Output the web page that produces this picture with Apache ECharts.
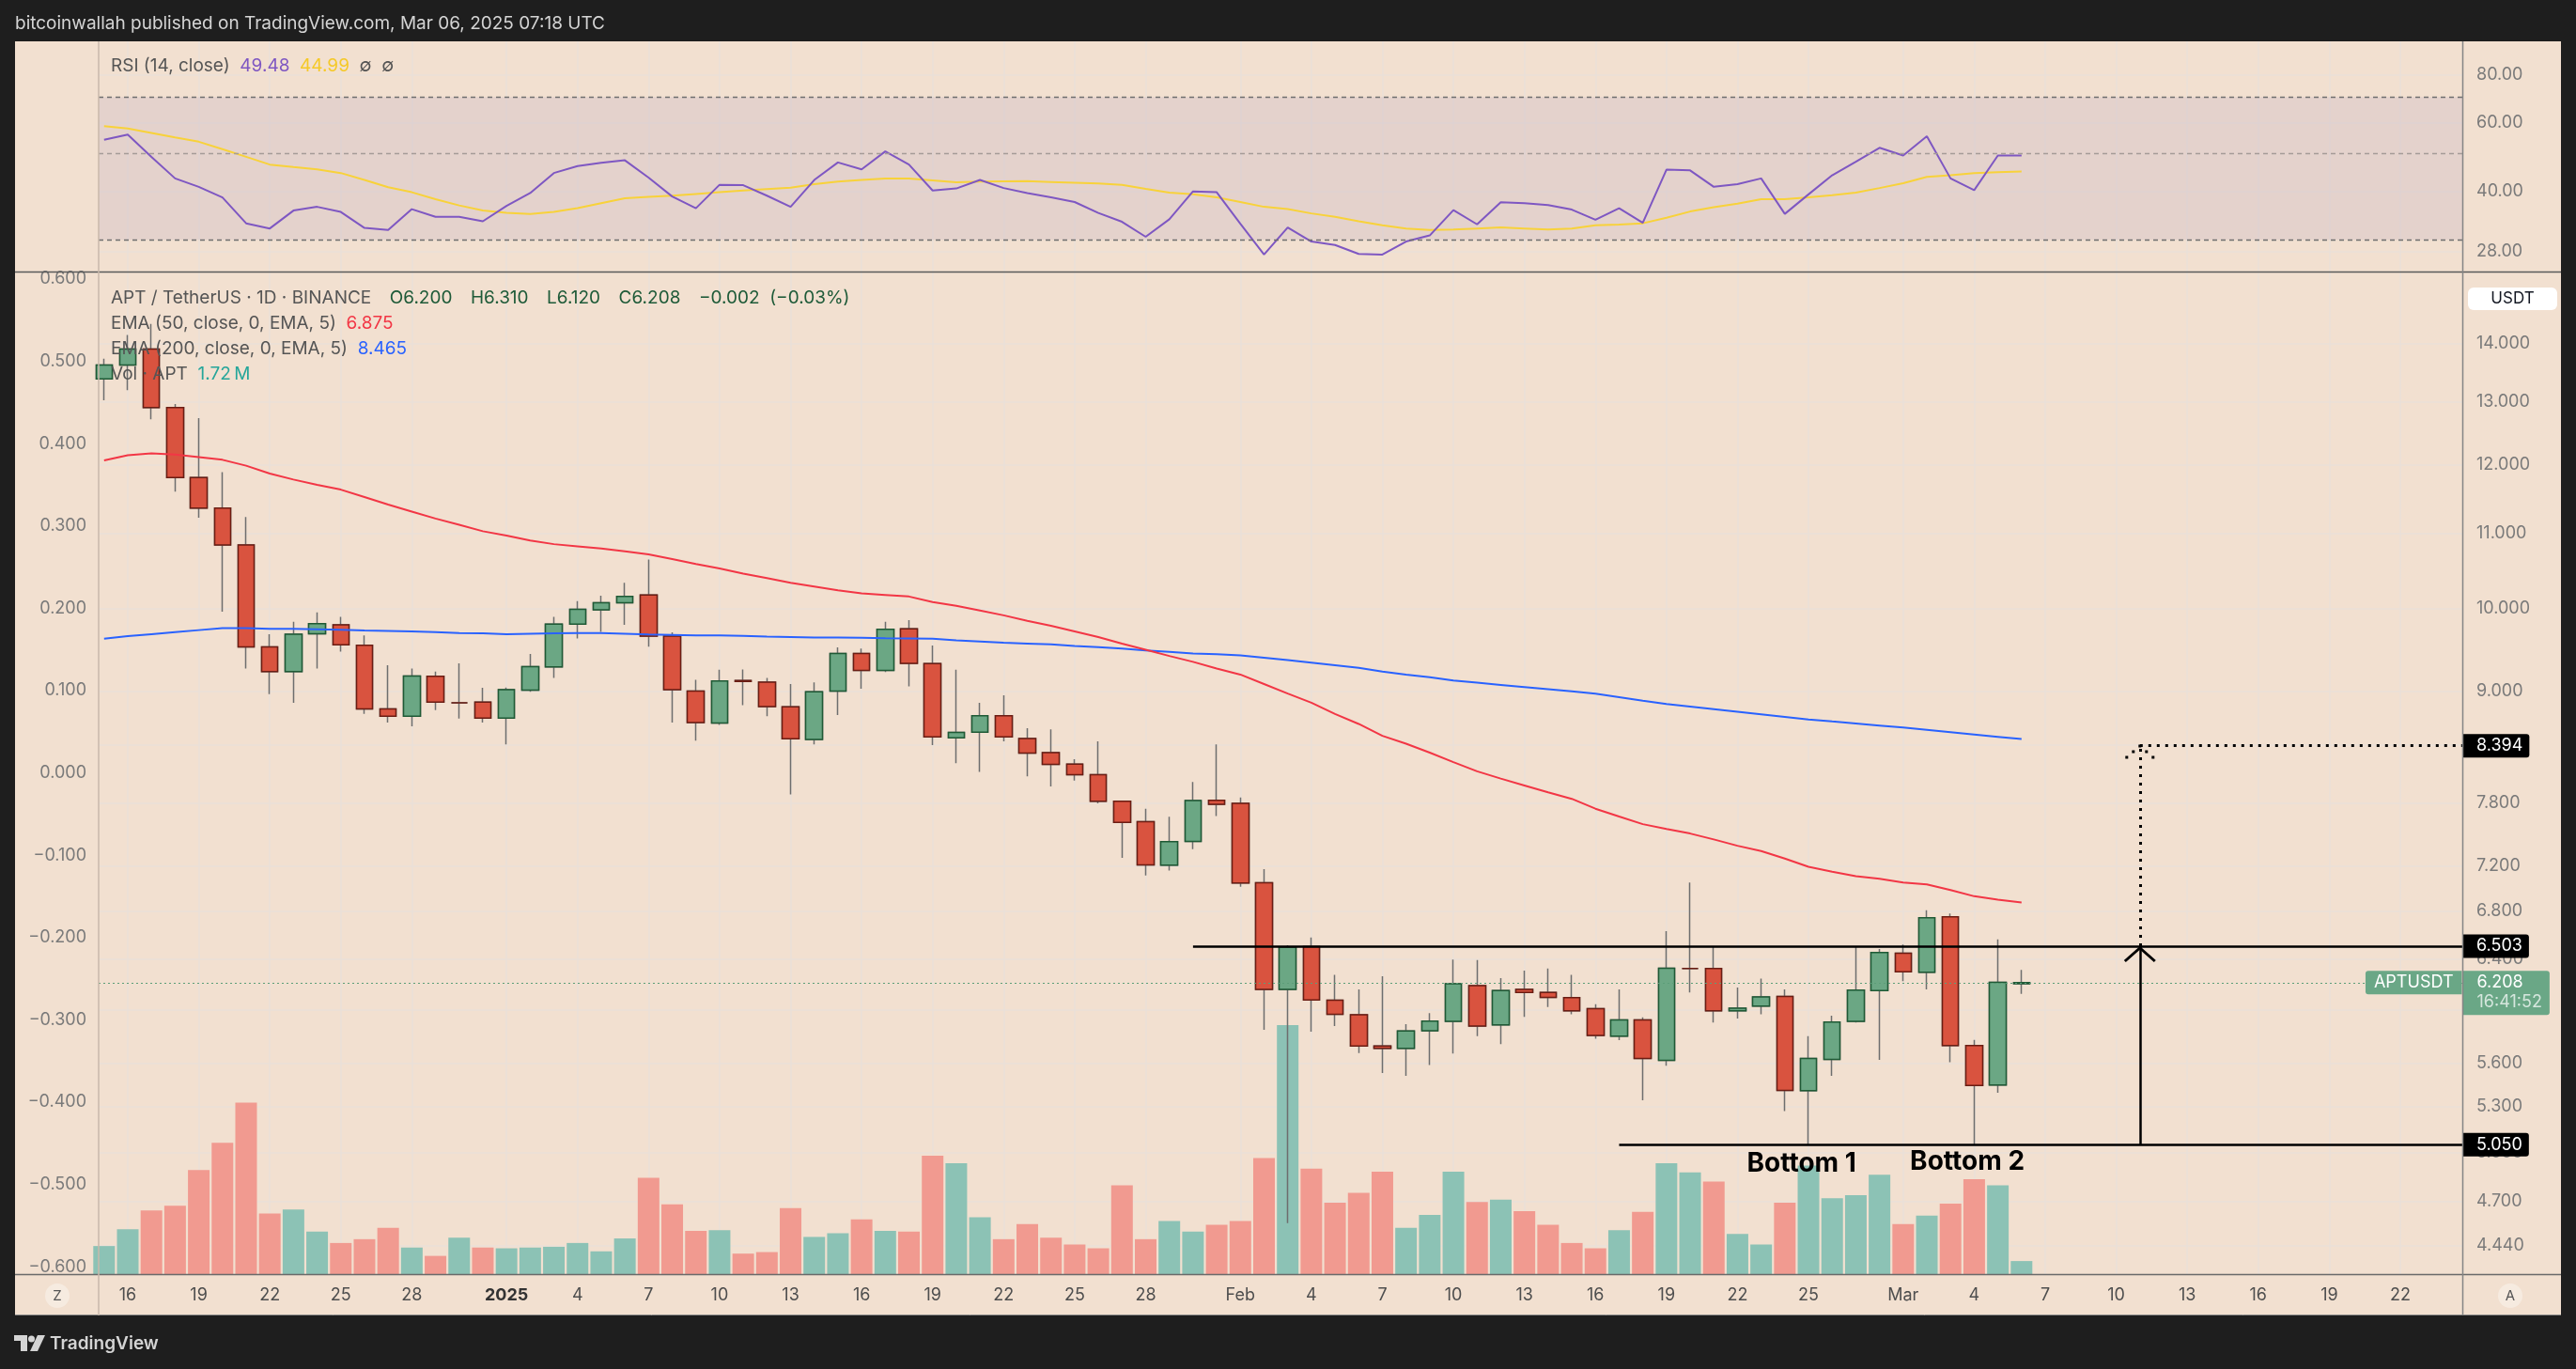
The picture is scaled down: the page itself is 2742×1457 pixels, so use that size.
<!DOCTYPE html>
<html lang="en">
<head>
<meta charset="utf-8">
<title>APT / TetherUS · 1D · BINANCE</title>
<script src="https://cdn.jsdelivr.net/npm/echarts@6.0.0/dist/echarts.min.js"></script>
<style>
  html, body { margin: 0; padding: 0; background: #1e1e1e; }
  #chart { width: 2742px; height: 1457px; }
</style>
</head>
<body>
<div id="chart"></div>
<script>
// daily candles, Dec 15 2024 .. Mar 6 2025
const firstDate = '2024-12-15';

const opens = [13.39, 13.63, 13.91, 12.91, 11.81, 11.36, 10.84, 9.52, 9.225, 9.68,
  9.79, 9.54, 8.797, 8.714, 9.17, 8.866, 8.873, 8.694, 9.01, 9.28,
  9.80, 9.98, 10.07, 10.17, 9.65, 9.0, 8.64, 9.12, 9.101, 8.82,
  8.46, 9.0, 9.44, 9.24, 9.74, 9.32, 8.48, 8.54, 8.72, 8.47,
  8.32, 8.20, 8.09, 7.82, 7.62, 7.21, 7.43, 7.83, 7.80, 7.05,
  6.155, 6.50, 6.07, 5.96, 5.727, 5.71, 5.84, 5.91, 6.185, 5.883,
  6.155, 6.13, 6.09, 6.005, 5.80, 5.92, 5.623, 6.32, 6.32, 5.99,
  6.025, 6.10, 5.41, 5.63, 5.91, 6.145, 6.445, 6.29, 6.75, 5.73,
  5.45, 6.20];
const highs = [13.74, 14.16, 14.36, 12.97, 12.74, 11.89, 11.23, 9.675, 9.83, 9.947,
  9.89, 9.659, 9.299, 9.262, 9.225, 9.322, 9.037, 9.04, 9.433, 9.89,
  10.09, 10.16, 10.33, 10.64, 9.698, 9.13, 9.248, 9.25, 9.15, 9.08,
  9.10, 9.514, 9.50, 9.83, 9.85, 9.537, 9.248, 8.866, 8.951, 8.583,
  8.57, 8.25, 8.44, 7.82, 7.747, 7.667, 8.015, 8.409, 7.859, 7.173,
  6.51, 6.575, 6.27, 6.155, 6.259, 5.888, 5.972, 6.393, 6.39, 6.244,
  6.303, 6.32, 6.27, 6.04, 6.155, 5.94, 6.628, 7.053, 6.50, 6.17,
  6.24, 6.155, 5.80, 5.952, 6.50, 6.48, 6.516, 6.807, 6.78, 5.772,
  6.559, 6.31];
const lows = [13.03, 13.20, 12.72, 11.60, 11.22, 9.955, 9.262, 8.965, 8.866, 9.262,
  9.462, 8.742, 8.645, 8.604, 8.784, 8.688, 8.645, 8.409, 8.99, 9.151,
  9.621, 9.704, 9.79, 9.522, 8.645, 8.449, 8.62, 8.838, 8.714, 7.889,
  8.409, 8.728, 9.025, 9.22, 9.052, 8.40, 8.21, 8.12, 8.442, 8.074,
  7.97, 8.03, 7.80, 7.276, 7.116, 7.16, 7.357, 7.674, 7.014, 5.847,
  4.571, 5.833, 5.875, 5.676, 5.533, 5.513, 5.589, 5.672, 5.80, 5.741,
  5.943, 6.019, 5.963, 5.78, 5.77, 5.344, 5.585, 6.13, 5.901, 5.93,
  5.963, 5.272, 5.048, 5.513, 5.90, 5.627, 6.22, 6.155, 5.61, 5.048,
  5.396, 6.12];
const closes = [13.63, 13.91, 12.91, 11.81, 11.36, 10.84, 9.52, 9.225, 9.675, 9.806,
  9.545, 8.797, 8.714, 9.173, 8.873, 8.866, 8.694, 9.015, 9.284, 9.798,
  9.986, 10.07, 10.15, 9.652, 9.015, 8.645, 9.115, 9.11, 8.823, 8.469,
  8.99, 9.439, 9.24, 9.736, 9.321, 8.489, 8.537, 8.721, 8.49, 8.316,
  8.198, 8.09, 7.82, 7.613, 7.213, 7.428, 7.828, 7.791, 7.047, 6.155,
  6.496, 6.072, 5.963, 5.727, 5.71, 5.838, 5.911, 6.20, 5.875, 6.145,
  6.13, 6.092, 5.99, 5.804, 5.92, 5.636, 6.323, 6.32, 5.99, 6.01,
  6.096, 5.412, 5.636, 5.905, 6.15, 6.451, 6.294, 6.743, 5.731, 5.446,
  6.210, 6.208];
// volume, millions of APT
const volumes = [3.7, 5.9, 8.4, 9.0, 13.7, 17.3, 22.6, 8.0, 8.5, 5.6,
  4.1, 4.6, 6.1, 3.5, 2.4, 4.8, 3.5, 3.4, 3.5, 3.6,
  4.1, 3.0, 4.7, 12.7, 9.2, 5.7, 5.8, 2.7, 2.9, 8.7,
  4.9, 5.4, 7.2, 5.7, 5.6, 15.6, 14.6, 7.5, 4.6, 6.6,
  4.8, 3.9, 3.4, 11.7, 4.6, 7.0, 5.6, 6.5, 7.0, 15.3,
  32.8, 13.9, 9.4, 10.7, 13.5, 6.1, 7.8, 13.5, 9.5, 9.8,
  8.3, 6.5, 4.1, 3.4, 5.8, 8.2, 14.6, 13.4, 12.2, 5.3,
  3.9, 9.4, 14.3, 10.0, 10.4, 13.1, 6.6, 7.7, 9.3, 12.5,
  11.7, 1.72];
const ema50 = [12.07, 12.15, 12.18, 12.16, 12.12, 12.08, 11.99, 11.87, 11.78, 11.70,
  11.63, 11.52, 11.41, 11.31, 11.21, 11.12, 11.03, 10.97, 10.90, 10.85,
  10.82, 10.79, 10.75, 10.71, 10.645, 10.58, 10.52, 10.45, 10.39, 10.33,
  10.28, 10.23, 10.19, 10.17, 10.15, 10.08, 10.03, 9.97, 9.91, 9.84,
  9.78, 9.71, 9.64, 9.56, 9.485, 9.41, 9.34, 9.26, 9.19, 9.08,
  8.97, 8.866, 8.74, 8.63, 8.50, 8.415, 8.32, 8.22, 8.125, 8.05,
  7.98, 7.91, 7.845, 7.747, 7.67, 7.596, 7.55, 7.506, 7.45, 7.39,
  7.34, 7.27, 7.195, 7.15, 7.11, 7.085, 7.053, 7.036, 6.985, 6.93,
  6.90, 6.875];
const ema200 = [9.62, 9.65, 9.675, 9.70, 9.725, 9.75, 9.75, 9.74, 9.74, 9.735,
  9.73, 9.72, 9.715, 9.71, 9.70, 9.69, 9.685, 9.675, 9.68, 9.685,
  9.69, 9.69, 9.68, 9.67, 9.665, 9.66, 9.66, 9.655, 9.645, 9.64,
  9.635, 9.633, 9.63, 9.625, 9.623, 9.62, 9.60, 9.585, 9.57, 9.56,
  9.55, 9.53, 9.515, 9.50, 9.477, 9.46, 9.44, 9.43, 9.417, 9.39,
  9.36, 9.33, 9.30, 9.27, 9.225, 9.19, 9.16, 9.12, 9.095, 9.07,
  9.045, 9.02, 8.995, 8.97, 8.93, 8.89, 8.853, 8.824, 8.795, 8.766,
  8.737, 8.708, 8.68, 8.657, 8.635, 8.612, 8.59, 8.565, 8.54, 8.515,
  8.49, 8.465];
const rsi = [54.35, 56.0, 49.1, 43.2, 41.1, 38.6, 33.1, 32.1, 35.7, 36.5,
  35.4, 32.2, 31.8, 36.0, 34.4, 34.4, 33.5, 36.7, 39.6, 44.6,
  46.5, 47.4, 48.1, 43.4, 38.8, 36.2, 41.6, 41.5, 39.0, 36.5,
  42.8, 47.5, 45.6, 50.7, 46.9, 40.2, 40.7, 42.8, 40.8, 39.6,
  38.6, 37.55, 35.2, 33.4, 30.55, 33.9, 40.0, 39.8, 33.0, 27.5,
  32.3, 29.7, 29.1, 27.6, 27.5, 29.7, 30.8, 35.8, 32.9, 37.5,
  37.3, 36.9, 35.9, 33.8, 36.2, 33.2, 45.5, 45.3, 41.1, 41.75,
  43.2, 35.0, 39.3, 44.0, 47.7, 51.8, 49.5, 55.5, 43.2, 40.3,
  49.5, 49.48];
const rsiMa = [58.9, 58.1, 56.6, 55.1, 53.7, 51.4, 49.1, 46.9, 46.2, 45.6,
  44.6, 42.8, 41.0, 39.8, 38.2, 36.8, 35.7, 35.2, 35.0, 35.4,
  36.2, 37.3, 38.4, 38.7, 39.0, 39.4, 39.8, 40.2, 40.55, 40.9,
  41.75, 42.4, 42.8, 43.2, 43.2, 42.7, 42.2, 42.4, 42.45, 42.5,
  42.3, 42.1, 41.9, 41.6, 40.6, 39.7, 39.3, 38.6, 37.55, 36.5,
  36.0, 35.1, 34.4, 33.5, 32.7, 32.1, 31.8, 31.9, 32.1, 32.3,
  32.1, 31.9, 32.1, 32.7, 32.85, 33.1, 34.2, 35.5, 36.4, 37.2,
  38.2, 38.2, 38.6, 39.1, 39.7, 40.8, 42.0, 43.6, 44.0, 44.6,
  44.8, 44.99];

const tickDates = ['2024-12-16', '2024-12-19', '2024-12-22', '2024-12-25', '2024-12-28',
  '2025-01-01', '2025-01-04', '2025-01-07', '2025-01-10', '2025-01-13', '2025-01-16',
  '2025-01-19', '2025-01-22', '2025-01-25', '2025-01-28', '2025-02-01', '2025-02-04',
  '2025-02-07', '2025-02-10', '2025-02-13', '2025-02-16', '2025-02-19', '2025-02-22',
  '2025-02-25', '2025-03-01', '2025-03-04', '2025-03-07', '2025-03-10', '2025-03-13',
  '2025-03-16', '2025-03-19', '2025-03-22'];
const tickLabels = ['16', '19', '22', '25', '28', '2025', '4', '7', '10', '13', '16',
  '19', '22', '25', '28', 'Feb', '4', '7', '10', '13', '16', '19', '22',
  '25', 'Mar', '4', '7', '10', '13', '16', '19', '22'];
const priceTicks = [14, 13, 12, 11, 10, 9, 8.4, 7.8, 7.2, 6.8, 6.4, 6.0, 5.6, 5.3, 5.0, 4.7, 4.44];
const rsiTicks = [80, 60, 40, 28];
const leftTicks = [0.6, 0.5, 0.4, 0.3, 0.2, 0.1, 0, -0.1, -0.2, -0.3, -0.4, -0.5, -0.6];

// drawings
const resistance = 6.503, resistanceFrom = '2025-01-30';
const support = 5.050, supportFrom = '2025-02-17';
const target = 8.394, arrowDate = '2025-03-11';
const bottomNotes = [['Bottom 1', '2025-02-24T17:00:00Z', 4.93], ['Bottom 2', '2025-03-03T17:00:00Z', 4.94]];
const countdown = '16:41:52';

const DAY = 86400000;
const t0 = Date.parse(firstDate);
const times = closes.map((_, i) => t0 + i * DAY);
const xMin = t0 - 0.23 * DAY;
const xMax = t0 + 99.62 * DAY;
const tickTimes = tickDates.map(d => Date.parse(d));

const FONT = 'Inter, "Noto Sans", sans-serif';
const BG = '#F2E0D0';
const GRID = '#EAE1D9';
const UP = '#6BA784', DOWN = '#D9533F';
const TAG = '#6AA786';
const LEG = 19; // legend font size
const GAP = '   \u2009';

const candles = times.map((t, i) => [t, opens[i], closes[i], lows[i], highs[i]]);
const bodies = times.map((t, i) => [t, opens[i], closes[i],
  Math.min(opens[i], closes[i]), Math.max(opens[i], closes[i])]);
const volData = times.map((t, i) => ({
  value: [t, volumes[i]],
  itemStyle: { color: closes[i] >= opens[i] ? '#8CC2B5' : '#F19A90' }
}));
const pair = arr => times.map((t, i) => [t, arr[i]]);

const last = closes.length - 1;
const lastClose = closes[last];
const signed = (v, d) => (v < 0 ? '\u2212' : '+') + Math.abs(v).toFixed(d);
const chg = closes[last] - closes[last - 1];
const chgPct = chg / closes[last - 1] * 100;

const ARROW = 'path://M17,0L17.1,0L17,0.1Z M17,17L34,32L32,34.2L17,20.8L2,34.2L0,32Z';
const DOT_ARROW = 'path://M16,0L16.1,0L16,0.1Z M14.5,12.5h3v3h-3Z M7.5,18.5h3v3h-3Z M0.5,24.5h3v3h-3Z M21.5,18.5h3v3h-3Z M28.5,24.5h3v3h-3Z';

function axisTag(text) {
  return {
    show: true, position: 'end', distance: 0, formatter: text,
    color: '#fff', backgroundColor: '#000', fontSize: 18, fontFamily: FONT,
    padding: [4, 7, 3, 15], borderRadius: [0, 3, 3, 0]
  };
}

function dayLabel(v) {
  const k = tickTimes.findIndex(t => Math.abs(t - v) < 1000);
  const s = k < 0 ? '' : tickLabels[k];
  return /^\d{4}$/.test(s) ? '{y|' + s + '}' : s;
}

function legendRow(y, text, rich) {
  const base = { fontSize: LEG, fontFamily: FONT };
  const r = { g: { fill: '#555', ...base } };
  Object.keys(rich).forEach(k => { r[k] = { fill: rich[k], ...base }; });
  return {
    type: 'text', x: 118, y: y, z: 30, silent: true,
    style: { text: text, fill: '#555', verticalAlign: 'middle', rich: r, ...base }
  };
}

const chart = echarts.init(document.getElementById('chart'), null, { width: 2742, height: 1457 });

const axisFont = { fontSize: 18, fontFamily: FONT };

chart.setOption({
  backgroundColor: '#1E1E1E',
  animation: false,
  textStyle: { fontFamily: FONT },
  grid: [
    { left: 105, right: 121, top: 44, height: 245, outerBoundsMode: 'none' },
    { left: 105, right: 121, top: 290, height: 1066, outerBoundsMode: 'none' }
  ],
  xAxis: [
    {
      type: 'value', gridIndex: 0, min: xMin, max: xMax, scale: true,
      axisLine: { show: false },
      axisTick: { show: false, customValues: tickTimes },
      axisLabel: { show: false, customValues: tickTimes },
      splitLine: { show: true, lineStyle: { color: GRID, width: 1.5 } }
    },
    {
      type: 'value', gridIndex: 1, min: xMin, max: xMax, scale: true,
      axisLine: { show: false },
      axisTick: { show: false, customValues: tickTimes },
      axisLabel: {
        customValues: tickTimes, margin: 14, color: '#4E4E4E', ...axisFont,
        formatter: dayLabel,
        rich: { y: { fontWeight: 'bold', color: '#333', ...axisFont } }
      },
      splitLine: { show: true, lineStyle: { color: GRID, width: 1.5 } }
    }
  ],
  yAxis: [
    {
      type: 'log', logBase: 10, gridIndex: 0, position: 'right', min: 24.86, max: 97.43,
      axisLine: { show: false },
      axisTick: { show: false, customValues: rsiTicks },
      axisLabel: { customValues: rsiTicks, formatter: v => v.toFixed(2), color: '#7A7A7A', margin: 15, ...axisFont },
      splitLine: { show: true, lineStyle: { color: GRID, width: 1.5 } }
    },
    {
      type: 'log', logBase: 10, gridIndex: 1, position: 'right', min: 4.2833, max: 15.334,
      axisLine: { show: false },
      axisTick: { show: false, customValues: priceTicks },
      axisLabel: { customValues: priceTicks, formatter: v => v.toFixed(3), color: '#7A7A7A', margin: 15, ...axisFont },
      splitLine: { show: true, lineStyle: { color: GRID, width: 1.5 } }
    },
    {
      type: 'value', gridIndex: 1, position: 'left', min: -0.609, max: 0.608,
      axisLine: { show: false },
      axisTick: { show: false, customValues: leftTicks },
      axisLabel: {
        customValues: leftTicks, color: '#7A7A7A', margin: 13, ...axisFont,
        formatter: v => (v < -1e-9 ? '\u2212' : '') + Math.abs(v).toFixed(3)
      },
      splitLine: { show: false }
    },
    { type: 'value', gridIndex: 1, min: 0, max: 132, show: false, splitLine: { show: false } }
  ],
  series: [
    {
      name: 'Vol', type: 'bar', xAxisIndex: 1, yAxisIndex: 3, barWidth: 23,
      data: volData, z: 1, silent: true
    },
    {
      name: 'wicks', type: 'candlestick', xAxisIndex: 1, yAxisIndex: 1, barWidth: 18,
      encode: { x: 0, y: [1, 2, 3, 4] }, data: candles, z: 3, silent: true,
      itemStyle: { color: UP, color0: DOWN, borderColor: '#6E6E6E', borderColor0: '#6E6E6E', borderWidth: 1.5 }
    },
    {
      name: 'APTUSDT', type: 'candlestick', xAxisIndex: 1, yAxisIndex: 1, barWidth: 18,
      encode: { x: 0, y: [1, 2, 3, 4] }, data: bodies, z: 4, silent: true,
      itemStyle: { color: UP, color0: DOWN, borderColor: '#1F5A35', borderColor0: '#6B1D13', borderWidth: 1.5 }
    },
    {
      name: 'EMA 200', type: 'line', xAxisIndex: 1, yAxisIndex: 1, data: pair(ema200),
      symbol: 'none', lineStyle: { color: '#2962FF', width: 2 }, z: 5, clip: false, silent: true,
      markPoint: {
        silent: true, animation: false, symbol: 'circle', symbolSize: 1,
        itemStyle: { color: 'rgba(0,0,0,0)' },
        data: bottomNotes.map(([txt, when, price]) => ({
          coord: [Date.parse(when), price],
          label: { show: true, position: 'inside', formatter: txt, color: '#000', fontSize: 28, fontWeight: 'bold', fontFamily: FONT }
        }))
      }
    },
    {
      name: 'EMA 50', type: 'line', xAxisIndex: 1, yAxisIndex: 1, data: pair(ema50),
      symbol: 'none', lineStyle: { color: '#F23645', width: 2 }, z: 6, clip: false, silent: true,
      markLine: {
        silent: true, animation: false, symbol: ['none', 'none'],
        label: { show: false }, lineStyle: { type: 'solid' },
        data: [
          [{ coord: [xMin, lastClose], lineStyle: { color: '#5C9E78', width: 1.2, type: [2, 3] } },
           { coord: [xMax, lastClose] }],
          [{ coord: [Date.parse(resistanceFrom), resistance], lineStyle: { color: '#000', width: 2.5, type: 'solid' }, label: axisTag(resistance.toFixed(3)) },
           { coord: [xMax, resistance] }],
          [{ coord: [Date.parse(supportFrom), support], lineStyle: { color: '#000', width: 2.5, type: 'solid' }, label: axisTag(support.toFixed(3)) },
           { coord: [xMax, support] }],
          [{ coord: [Date.parse(arrowDate), target], lineStyle: { color: '#000', width: 3, type: [3, 6] }, label: axisTag(target.toFixed(3)) },
           { coord: [xMax, target] }],
          [{ coord: [Date.parse(arrowDate), support], lineStyle: { color: '#000', width: 2.5, type: 'solid' } },
           { coord: [Date.parse(arrowDate), resistance], symbol: ARROW, symbolSize: [34, 34.2] }],
          [{ coord: [Date.parse(arrowDate), resistance], lineStyle: { color: '#000', width: 3, type: [3, 6] } },
           { coord: [Date.parse(arrowDate), target], symbol: DOT_ARROW, symbolSize: [31, 27.5] }]
        ]
      },
      markPoint: {
        silent: true, animation: false, symbol: 'circle', symbolSize: 1,
        itemStyle: { color: 'rgba(0,0,0,0)' },
        data: [
          {
            coord: [xMax, lastClose],
            label: {
              show: true, position: 'left', distance: 0, formatter: 'APTUSDT',
              color: '#fff', backgroundColor: TAG, fontSize: 18, fontFamily: FONT,
              padding: [4, 9, 3, 9], borderRadius: [3, 0, 0, 3]
            }
          },
          {
            coord: [xMax, lastClose],
            label: {
              show: true, position: 'right', distance: 0, offset: [0, 11],
              formatter: '{p|' + lastClose.toFixed(3) + '}\n{t|' + countdown + '}',
              backgroundColor: TAG, padding: [2, 8, 3, 15], borderRadius: [0, 3, 3, 0],
              rich: {
                p: { color: '#fff', fontSize: 18, fontFamily: FONT, lineHeight: 21 },
                t: { color: 'rgba(255,255,255,0.72)', fontSize: 18, fontFamily: FONT, lineHeight: 21 }
              }
            }
          }
        ]
      }
    },
    {
      name: 'RSI', type: 'line', xAxisIndex: 0, yAxisIndex: 0, data: pair(rsi),
      symbol: 'none', lineStyle: { color: '#7E57C2', width: 2 }, z: 4, silent: true,
      markArea: {
        silent: true, animation: false,
        itemStyle: { color: 'rgba(186,168,192,0.25)' },
        data: [[{ yAxis: 70 }, { yAxis: 30 }]]
      },
      markLine: {
        silent: true, animation: false, symbol: ['none', 'none'], label: { show: false },
        data: [
          { yAxis: 70, lineStyle: { color: '#6E6E6E', width: 1.3, type: [5, 4] } },
          { yAxis: 50, lineStyle: { color: '#A59C97', width: 1.3, type: [5, 4] } },
          { yAxis: 30, lineStyle: { color: '#6E6E6E', width: 1.3, type: [5, 4] } }
        ]
      }
    },
    {
      name: 'RSI MA', type: 'line', xAxisIndex: 0, yAxisIndex: 0, data: pair(rsiMa),
      symbol: 'none', lineStyle: { color: '#F8D23A', width: 2 }, z: 3, silent: true
    }
  ],
  graphic: [
    { type: 'rect', z: -10, silent: true, shape: { x: 16, y: 44, width: 2710, height: 1356 }, style: { fill: BG } },
    {
      type: 'text', x: 16, y: 25, silent: true,
      style: { text: 'bitcoinwallah published on TradingView.com, Mar 06, 2025 07:18 UTC', fill: '#D4D4D4', fontSize: 19, fontFamily: FONT, verticalAlign: 'middle' }
    },
    // pane borders
    { type: 'line', z: 20, silent: true, shape: { x1: 16, y1: 289.5, x2: 2726, y2: 289.5 }, style: { stroke: '#5A5A5A', lineWidth: 1.5 } },
    { type: 'line', z: 20, silent: true, shape: { x1: 16, y1: 1356.5, x2: 2726, y2: 1356.5 }, style: { stroke: '#6A6A6A', lineWidth: 1.5 } },
    { type: 'line', z: 20, silent: true, shape: { x1: 16, y1: 1399.5, x2: 2726, y2: 1399.5 }, style: { stroke: '#8A8A8A', lineWidth: 1 } },
    { type: 'line', z: 20, silent: true, shape: { x1: 105, y1: 44, x2: 105, y2: 1400 }, style: { stroke: '#C9B9AB', lineWidth: 1.5 } },
    { type: 'line', z: 20, silent: true, shape: { x1: 2621.5, y1: 44, x2: 2621.5, y2: 1400 }, style: { stroke: '#858585', lineWidth: 1.5 } },
    // legends
    legendRow(70, '{g|RSI (14, close)}  {p|' + rsi[last].toFixed(2) + '}  {y|' + rsiMa[last].toFixed(2) + '}  {g|\u2205}  {g|\u2205}',
      { p: '#7E57C2', y: '#F5C928' }),
    legendRow(317, '{g|APT / TetherUS \u00b7 1D \u00b7 BINANCE}' + GAP + '{v|O' + opens[last].toFixed(3) + GAP + 'H' + highs[last].toFixed(3) +
      GAP + 'L' + lows[last].toFixed(3) + GAP + 'C' + closes[last].toFixed(3) + GAP + signed(chg, 3) + '  (' + signed(chgPct, 2) + '%)}',
      { v: '#1E5A38' }),
    legendRow(344, '{g|EMA (50, close, 0, EMA, 5)}  {r|' + ema50[last].toFixed(3) + '}', { r: '#F23645' }),
    legendRow(371, '{g|EMA (200, close, 0, EMA, 5)}  {b|' + ema200[last].toFixed(3) + '}', { b: '#2962FF' }),
    legendRow(398, '{g|Vol \u00b7 APT}  {t|' + volumes[last].toFixed(2) + '\u202fM}', { t: '#26A69A' }),
    // currency badge on price scale
    { type: 'rect', z: 30, silent: true, shape: { x: 2627, y: 306, width: 95, height: 24, r: 6 }, style: { fill: '#FFFFFF' } },
    {
      type: 'text', x: 2674.5, y: 318, z: 31, silent: true,
      style: { text: 'USDT', fill: '#131722', fontSize: 17, fontFamily: FONT, align: 'center', verticalAlign: 'middle' }
    },
    // scale buttons
    { type: 'circle', z: 30, silent: true, shape: { cx: 61, cy: 1379, r: 13 }, style: { fill: 'rgba(255,255,255,0.35)' } },
    { type: 'text', x: 61, y: 1379, z: 31, silent: true, style: { text: 'Z', fill: '#555', fontSize: 15, fontFamily: FONT, align: 'center', verticalAlign: 'middle' } },
    { type: 'circle', z: 30, silent: true, shape: { cx: 2672, cy: 1379, r: 13 }, style: { fill: 'rgba(255,255,255,0.35)' } },
    { type: 'text', x: 2672, y: 1379, z: 31, silent: true, style: { text: 'A', fill: '#555', fontSize: 15, fontFamily: FONT, align: 'center', verticalAlign: 'middle' } },
    // footer logo
    { type: 'polygon', silent: true, shape: { points: [[15, 1421], [29, 1421], [29, 1438], [22, 1438], [22, 1427], [15, 1427]] }, style: { fill: '#D4D4D4' } },
    { type: 'circle', silent: true, shape: { cx: 33.5, cy: 1425, r: 3.5 }, style: { fill: '#D4D4D4' } },
    { type: 'polygon', silent: true, shape: { points: [[40, 1421], [48, 1421], [40, 1438], [32, 1438]] }, style: { fill: '#D4D4D4' } },
    {
      type: 'text', x: 53, y: 1430, silent: true,
      style: { text: 'TradingView', fill: '#D4D4D4', fontSize: 19, fontWeight: 600, fontFamily: FONT, verticalAlign: 'middle' }
    }
  ]
});
</script>
</body>
</html>
